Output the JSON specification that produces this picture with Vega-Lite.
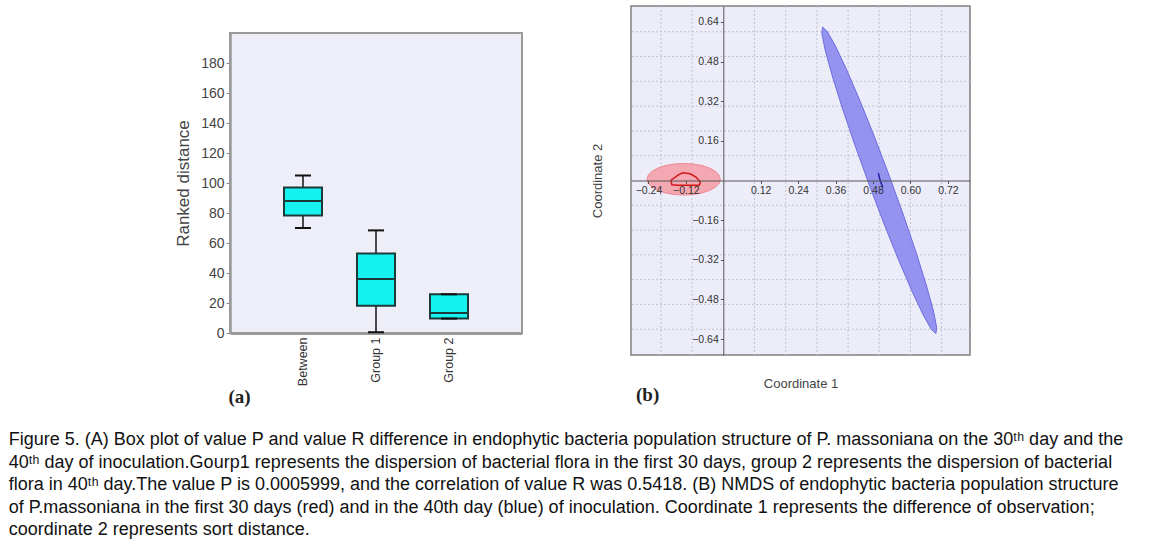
{
  "$schema": "https://vega.github.io/schema/vega-lite/v6.json",
  "padding": {"left": 8, "top": 0, "right": 5, "bottom": 0},
  "config": {"view": {"stroke": null}, "font": "Liberation Sans", "axis": {"labelOverlap": false}},
  "datasets": {
    "box": [
      {"group": "Between", "min": 70, "q1": 78.4, "median": 88, "q3": 97, "max": 105},
      {"group": "Group 1", "min": 0.5, "q1": 18.2, "median": 36, "q3": 53, "max": 68.4},
      {"group": "Group 2", "min": 9.6, "q1": 9.6, "median": 13.4, "q3": 25.8, "max": 25.8}
    ],
    "gridx": [{"x": -0.2}, {"x": -0.1}, {"x": 0.1}, {"x": 0.2}, {"x": 0.3}, {"x": 0.4}, {"x": 0.5}, {"x": 0.6}, {"x": 0.7}],
    "gridy": [{"y": -0.6}, {"y": -0.5}, {"y": -0.4}, {"y": -0.3}, {"y": -0.2}, {"y": -0.1}, {"y": 0.1}, {"y": 0.2}, {"y": 0.3}, {"y": 0.4}, {"y": 0.5}, {"y": 0.6}],
    "red": [
      {"i": 0, "x": -0.0094, "y": 0.005}, {"i": 1, "x": -0.0134, "y": 0.0215}, {"i": 2, "x": -0.0252, "y": 0.0369},
      {"i": 3, "x": -0.0438, "y": 0.05}, {"i": 4, "x": -0.0682, "y": 0.0602}, {"i": 5, "x": -0.0966, "y": 0.0665},
      {"i": 6, "x": -0.127, "y": 0.0687}, {"i": 7, "x": -0.1574, "y": 0.0665}, {"i": 8, "x": -0.1858, "y": 0.0602},
      {"i": 9, "x": -0.2102, "y": 0.05}, {"i": 10, "x": -0.2288, "y": 0.0369}, {"i": 11, "x": -0.2406, "y": 0.0215},
      {"i": 12, "x": -0.2446, "y": 0.005}, {"i": 13, "x": -0.2406, "y": -0.0115}, {"i": 14, "x": -0.2288, "y": -0.0269},
      {"i": 15, "x": -0.2102, "y": -0.04}, {"i": 16, "x": -0.1858, "y": -0.0502}, {"i": 17, "x": -0.1574, "y": -0.0565},
      {"i": 18, "x": -0.127, "y": -0.0587}, {"i": 19, "x": -0.0966, "y": -0.0565}, {"i": 20, "x": -0.0682, "y": -0.0502},
      {"i": 21, "x": -0.0438, "y": -0.04}, {"i": 22, "x": -0.0252, "y": -0.0269}, {"i": 23, "x": -0.0134, "y": -0.0115}
    ],
    "blue": [
      {"i": 0, "x": 0.6817, "y": -0.6173}, {"i": 1, "x": 0.667, "y": -0.6002}, {"i": 2, "x": 0.6409, "y": -0.5422},
      {"i": 3, "x": 0.6052, "y": -0.4471}, {"i": 4, "x": 0.5623, "y": -0.3216}, {"i": 5, "x": 0.5151, "y": -0.174},
      {"i": 6, "x": 0.467, "y": -0.0145}, {"i": 7, "x": 0.4211, "y": 0.146}, {"i": 8, "x": 0.3805, "y": 0.2966},
      {"i": 9, "x": 0.3482, "y": 0.4271}, {"i": 10, "x": 0.3261, "y": 0.5284}, {"i": 11, "x": 0.316, "y": 0.5938},
      {"i": 12, "x": 0.3183, "y": 0.6189}, {"i": 13, "x": 0.333, "y": 0.6018}, {"i": 14, "x": 0.3591, "y": 0.5438},
      {"i": 15, "x": 0.3948, "y": 0.4487}, {"i": 16, "x": 0.4377, "y": 0.3232}, {"i": 17, "x": 0.4849, "y": 0.1756},
      {"i": 18, "x": 0.533, "y": 0.0161}, {"i": 19, "x": 0.5789, "y": -0.1444}, {"i": 20, "x": 0.6195, "y": -0.295},
      {"i": 21, "x": 0.6518, "y": -0.4255}, {"i": 22, "x": 0.6739, "y": -0.5268}, {"i": 23, "x": 0.684, "y": -0.5922}
    ],
    "redHull": [
      {"i": 0, "x": -0.168, "y": 0.001}, {"i": 1, "x": -0.144, "y": 0.023}, {"i": 2, "x": -0.13, "y": 0.031},
      {"i": 3, "x": -0.106, "y": 0.027}, {"i": 4, "x": -0.0875, "y": 0.014}, {"i": 5, "x": -0.074, "y": -0.006},
      {"i": 6, "x": -0.077, "y": -0.019}, {"i": 7, "x": -0.146, "y": -0.019}, {"i": 8, "x": -0.165, "y": -0.017}
    ],
    "blueHull": [
      {"i": 0, "x": 0.497, "y": 0.03}, {"i": 1, "x": 0.503, "y": 0.0}, {"i": 2, "x": 0.511, "y": -0.026}
    ]
  },
  "title": {
    "text": [
      "Figure 5. (A) Box plot of value P and value R difference in endophytic bacteria population structure of P. massoniana on the 30ᵗʰ day and the",
      "40ᵗʰ day of inoculation.Gourp1 represents the dispersion of bacterial flora in the first 30 days, group 2 represents the dispersion of bacterial",
      "flora in 40ᵗʰ day.The value P is 0.0005999, and the correlation of value R was 0.5418. (B) NMDS of endophytic bacteria population structure",
      "of P.massoniana in the first 30 days (red) and in the 40th day (blue) of inoculation. Coordinate 1 represents the difference of observation;",
      "coordinate 2 represents sort distance."
    ],
    "orient": "bottom",
    "anchor": "start",
    "dx": -165,
    "offset": 24,
    "font": "Liberation Sans",
    "fontSize": 18,
    "fontWeight": "normal",
    "color": "#111111",
    "lineHeight": 22.5
  },
  "spacing": 67,
  "hconcat": [
    {
      "spacing": 20,
      "vconcat": [
        {
          "width": 292,
          "height": 1,
          "data": {"values": [{"v": 0}]},
          "mark": {"type": "text", "text": ""},
          "encoding": {}
        },
        {
          "width": 292,
          "height": 300,
          "view": {"fill": "#EEEEF9", "stroke": "#9a9a9a", "strokeWidth": 2},
          "data": {"name": "box"},
          "encoding": {
            "x": {
              "field": "group", "type": "nominal", "sort": null,
              "scale": {"paddingInner": 0, "paddingOuter": 0.5},
              "axis": {
                "labelAngle": 270, "labelFontSize": 12.5, "labelColor": "#333333", "labelPadding": 4,
                "ticks": false, "domainColor": "#9a9a9a", "domainWidth": 3,
                "title": "(a)", "titleFont": "Liberation Serif", "titleFontSize": 19, "titleFontWeight": "bold",
                "titleColor": "#222222", "titleX": 9, "titleY": 63, "titleAlign": "center", "titleBaseline": "middle"
              }
            },
            "y": {
              "field": "min", "type": "quantitative", "title": "Ranked distance",
              "scale": {"domain": [0, 200], "nice": false},
              "axis": {
                "values": [0, 20, 40, 60, 80, 100, 120, 140, 160, 180], "grid": false, "labelOverlap": false,
                "labelFontSize": 14, "labelColor": "#444444", "tickColor": "#888888", "tickSize": 4,
                "domainColor": "#9a9a9a", "domainWidth": 2.5,
                "titleFontSize": 17, "titleFontWeight": "normal", "titleColor": "#444444", "titlePadding": 8
              }
            }
          },
          "layer": [
            {
              "mark": {"type": "rule", "color": "#111111", "strokeWidth": 1.5},
              "encoding": {"y2": {"field": "max"}}
            },
            {
              "mark": {"type": "bar", "size": 38, "fill": "#16F2F0", "stroke": "#1b3b3b", "strokeWidth": 2},
              "encoding": {
                "y": {"field": "q1", "type": "quantitative", "title": "Ranked distance"},
                "y2": {"field": "q3"}
              }
            },
            {
              "mark": {"type": "tick", "size": 38, "thickness": 2, "color": "#1b3b3b", "opacity": 1},
              "encoding": {"y": {"field": "median", "type": "quantitative", "title": "Ranked distance"}}
            },
            {
              "mark": {"type": "tick", "size": 16, "thickness": 2, "color": "#111111", "opacity": 1}
            },
            {
              "mark": {"type": "tick", "size": 16, "thickness": 2, "color": "#111111", "opacity": 1},
              "encoding": {"y": {"field": "max", "type": "quantitative", "title": "Ranked distance"}}
            }
          ]
        }
      ]
    },
    {
      "width": 339,
      "height": 349,
      "view": {"fill": "#EDEDF9", "stroke": "#808080", "strokeWidth": 1.5},
      "title": {
        "text": "(b)", "orient": "bottom", "anchor": "start", "frame": "group",
        "font": "Liberation Serif", "fontSize": 19, "fontWeight": "bold", "color": "#222222",
        "dx": 5, "offset": -5
      },
      "layer": [
        {
          "data": {"name": "gridx"},
          "mark": {"type": "rule", "color": "#c2c2d2", "strokeDash": [2, 2], "strokeWidth": 1},
          "encoding": {
            "x": {
              "field": "x", "type": "quantitative", "title": "Coordinate 1",
              "scale": {"domain": [-0.296, 0.791], "nice": false, "zero": false},
              "axis": {
                "orient": "bottom", "offset": -174.5, "zindex": 1,
                "values": [-0.24, -0.12, 0.12, 0.24, 0.36, 0.48, 0.6, 0.72], "format": ".2f",
                "grid": false, "labelOverlap": false, "labelFlush": false,
                "domainColor": "#555555", "domainWidth": 1, "tickColor": "#555555", "tickSize": 3,
                "labelFontSize": 10.5, "labelColor": "#333333", "labelPadding": 2,
                "titleFontSize": 13, "titleFontWeight": "normal", "titleColor": "#444444",
                "titleY": 197, "titleBaseline": "top"
              }
            }
          }
        },
        {
          "data": {"name": "gridy"},
          "mark": {"type": "rule", "color": "#c2c2d2", "strokeDash": [2, 2], "strokeWidth": 1},
          "encoding": {
            "y": {
              "field": "y", "type": "quantitative", "title": "Coordinate 2",
              "scale": {"domain": [-0.704, 0.704], "nice": false, "zero": false},
              "axis": {
                "orient": "left", "offset": -92.3, "zindex": 1,
                "values": [-0.64, -0.48, -0.32, -0.16, 0.16, 0.32, 0.48, 0.64], "format": ".2f",
                "grid": false, "labelOverlap": false, "labelFlush": false,
                "domainColor": "#555555", "domainWidth": 1, "tickColor": "#555555", "tickSize": 3,
                "labelFontSize": 10.5, "labelColor": "#333333", "labelPadding": 2,
                "titleFontSize": 13, "titleFontWeight": "normal", "titleColor": "#444444",
                "titleX": -119
              }
            }
          }
        },
        {
          "data": {"name": "red"},
          "mark": {"type": "line", "interpolate": "linear-closed", "fill": "#F4A0A8", "fillOpacity": 0.9, "stroke": "#EE8890", "strokeWidth": 1},
          "encoding": {
            "x": {"field": "x", "type": "quantitative", "title": "Coordinate 1"},
            "y": {"field": "y", "type": "quantitative", "title": "Coordinate 2"},
            "order": {"field": "i", "type": "quantitative"}
          }
        },
        {
          "data": {"name": "blue"},
          "mark": {"type": "line", "interpolate": "linear-closed", "fill": "#8A8AEE", "fillOpacity": 0.9, "stroke": "#6C6CE0", "strokeWidth": 1},
          "encoding": {
            "x": {"field": "x", "type": "quantitative", "title": "Coordinate 1"},
            "y": {"field": "y", "type": "quantitative", "title": "Coordinate 2"},
            "order": {"field": "i", "type": "quantitative"}
          }
        },
        {
          "data": {"name": "redHull"},
          "mark": {"type": "line", "interpolate": "linear-closed", "stroke": "#D01818", "strokeWidth": 1.5},
          "encoding": {
            "x": {"field": "x", "type": "quantitative", "title": "Coordinate 1"},
            "y": {"field": "y", "type": "quantitative", "title": "Coordinate 2"},
            "order": {"field": "i", "type": "quantitative"}
          }
        },
        {
          "data": {"name": "blueHull"},
          "mark": {"type": "line", "stroke": "#2020A0", "strokeWidth": 1.5},
          "encoding": {
            "x": {"field": "x", "type": "quantitative", "title": "Coordinate 1"},
            "y": {"field": "y", "type": "quantitative", "title": "Coordinate 2"},
            "order": {"field": "i", "type": "quantitative"}
          }
        }
      ]
    }
  ]
}
